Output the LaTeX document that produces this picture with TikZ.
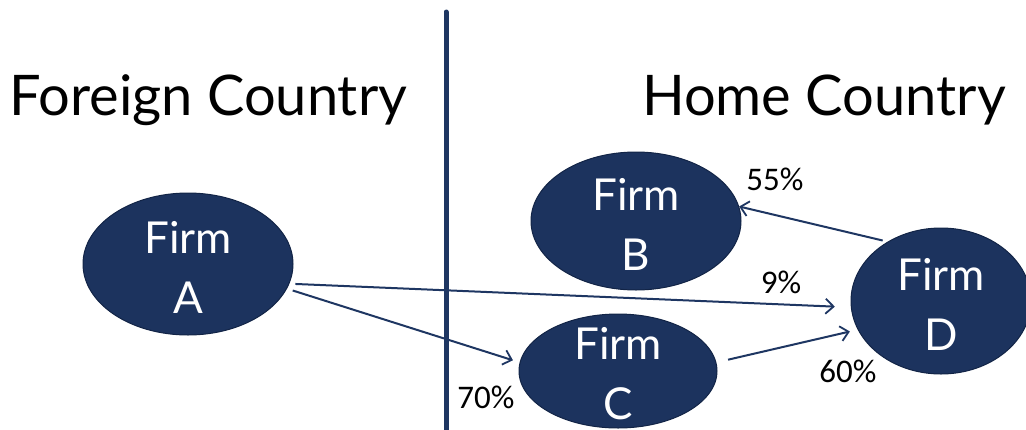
\documentclass[tikz,border=0pt]{standalone}
\usepackage{fontspec}
\setmainfont{Lato}
\newfontfamily\pctfont{Carlito}
\usepackage{tikz}
\usetikzlibrary{shapes.geometric,arrows.meta,positioning}
\definecolor{firmblue}{RGB}{28,51,94}
\definecolor{firmborder}{RGB}{18,36,70}
\definecolor{linkblue}{RGB}{30,54,98}

\begin{document}
\begin{tikzpicture}[
        x=1pt, y=-1pt,
        firm/.style={ellipse, draw=firmborder, fill=firmblue, line width=1pt, inner sep=0pt},
        firmtext/.style={text=white, align=center, font=\fontsize{44}{60}\selectfont, yshift=-3pt},
        title/.style={anchor=base west, inner sep=0pt, font=\fontsize{56}{66}\selectfont},
        pct/.style={inner sep=0pt, font=\pctfont\fontsize{33}{38}\selectfont},
        arrow/.style={-{Straight Barb[length=8pt,width=15pt,line width=1.8pt]}, line width=2pt, draw=linkblue},
        divider/.style={line width=5pt, draw=linkblue, line cap=round}
    ]
        \useasboundingbox (0,0) rectangle (1026,429);

        % border between the two countries
        \coordinate (divtop) at (446,12);
        \coordinate (divbot) at (446,440);
        \draw[divider] (divtop) -- (divbot);

        \node[title] (foreign) at (9,115) {Foreign Country};
        \node[title] (home) at (642,115) {Home Country};

        % firms
        \node[firm, minimum width=210pt, minimum height=142pt, label={[firmtext]center:{Firm\\A}}] (A) at (188,264) {};
        \node[firm, minimum width=210pt, minimum height=138pt, label={[firmtext]center:{Firm\\B}}] (B) at (636,221) {};
        \node[firm, minimum width=198pt, minimum height=114pt, label={[firmtext]center:{Firm\\C}}] (C) at (618,371) {};
        \node[firm, minimum width=180pt, minimum height=146pt, label={[firmtext]center:{Firm\\D}}] (D) at (941,301) {};

        % ownership links
        \draw[arrow, shorten <=6pt, shorten >=16pt] (A.-11) -- (D.184);
        \draw[arrow, shorten <=6pt, shorten >=7pt] (A.-14) -- (C.175);
        \draw[arrow, shorten <=12pt, shorten >=8pt] (C.5) -- (D.199);
        \draw[arrow, shorten <=5pt] (D.132) -- (B.8);

        \node[pct] (p55) at (775,179) {55\%};
        \node[pct] (p9) at (781,282) {9\%};
        \node[pct] (p70) at (486,397) {70\%};
        \node[pct] (p60) at (848,371) {60\%};
    \end{tikzpicture}
\end{document}
